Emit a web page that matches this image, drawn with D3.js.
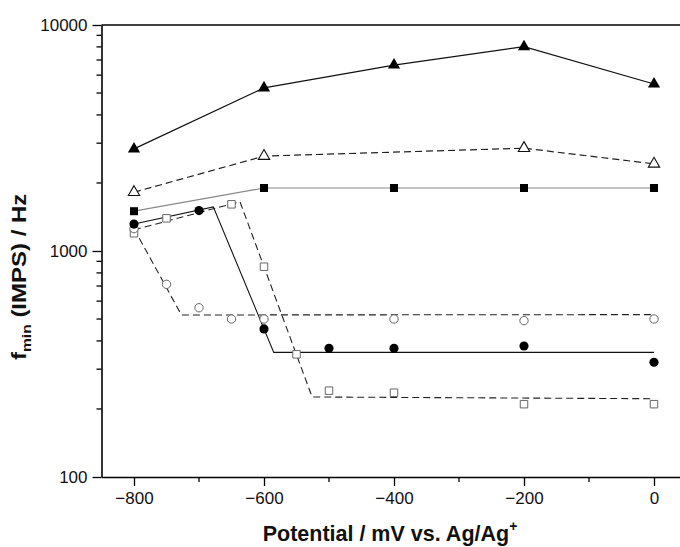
<!DOCTYPE html>
<html>
<head>
<meta charset="utf-8">
<script src="https://cdn.jsdelivr.net/npm/d3@7/dist/d3.min.js"></script>
<style>
  html, body { margin: 0; padding: 0; background: #fff; }
  svg { display: block; }
  text { font-family: "Liberation Sans", Arial, Helvetica, sans-serif; fill: #111; }
</style>
</head>
<body>
<svg id="chart" width="680" height="547"></svg>
<script>
// Potential (mV vs. Ag/Ag+) for each measured series
const trianglePotential = [-800, -600, -400, -200, 0];
const filledTriangle = [2830, 5270, 6650, 8020, 5480];

const openTrianglePotential = [-800, -600, -200, 0];
const openTriangle = [1820, 2630, 2850, 2430];

const squarePotential = [-800, -600, -400, -200, 0];
const filledSquare = [1500, 1900, 1900, 1900, 1900];

const circlePotential = [-800, -700, -600, -500, -400, -200, 0];
const filledCircle = [1316, 1510, 452, 371, 371, 380, 322];

const openCirclePotential = [-800, -750, -700, -650, -600, -400, -200, 0];
const openCircle = [1256, 712, 561, 500, 500, 500, 492, 500];

const openSquarePotential = [-800, -750, -650, -600, -550, -500, -400, -200, 0];
const openSquare = [1198, 1395, 1609, 852, 349, 241, 236, 210, 210];

// Piecewise fit lines (potential, frequency)
const filledCircleFitPotential = [-800, -678, -585, 0];
const filledCircleFit = [1316, 1568, 356, 356];

const openCircleFitPotential = [-800, -727, 0];
const openCircleFit = [1256, 521, 523];

const openSquareFitPotential = [-800, -637, -526, 0];
const openSquareFit = [1240, 1653, 226, 222];

// Axis ticks
const xMajorTicks = [-800, -600, -400, -200, 0];
const xMinorTicks = [-700, -500, -300, -100];
const yMajorTicks = [100, 1000, 10000];
const yMinorTicks = [200, 300, 400, 500, 600, 700, 800, 900,
                     2000, 3000, 4000, 5000, 6000, 7000, 8000, 9000];

const svg = d3.select("#chart");

const x = d3.scaleLinear().domain([-850, 50]).range([101.5, 686.5]);
const y = d3.scaleLog().domain([100, 10000]).range([477, 25]);

const zip = (xs, ys) => xs.map((v, i) => [v, ys[i]]);
const line = d3.line().x(d => x(d[0])).y(d => y(d[1]));

// Frame: top border
svg.append("line")
  .attr("x1", x(-850)).attr("x2", x(50))
  .attr("y1", y(10000)).attr("y2", y(10000))
  .attr("stroke", "#000").attr("stroke-width", 1.6);

// X axis
const xAxis = svg.append("g").attr("transform", `translate(0,${y(100)})`);
xAxis.call(d3.axisBottom(x).tickValues(xMajorTicks).tickSize(9).tickSizeOuter(0).tickPadding(6)
  .tickFormat(d3.format("d")));
xAxis.append("g").selectAll("line").data(xMinorTicks).join("line")
  .attr("x1", d => x(d)).attr("x2", d => x(d)).attr("y1", 0).attr("y2", 5)
  .attr("stroke", "#000").attr("stroke-width", 1.3);

// Y axis
const yAxis = svg.append("g").attr("transform", `translate(${x(-850)},0)`);
yAxis.call(d3.axisLeft(y).tickValues(yMajorTicks).tickSize(9).tickSizeOuter(0).tickPadding(5)
  .tickFormat(d3.format("d")));
yAxis.append("g").selectAll("line").data(yMinorTicks).join("line")
  .attr("x1", 0).attr("x2", -5).attr("y1", d => y(d)).attr("y2", d => y(d))
  .attr("stroke", "#000").attr("stroke-width", 1.3);

[xAxis, yAxis].forEach(g => {
  g.select(".domain").attr("stroke", "#000").attr("stroke-width", 1.6);
  g.selectAll(".tick line").attr("stroke", "#000").attr("stroke-width", 1.3);
  g.selectAll(".tick text").attr("font-size", 17).attr("fill", "#111")
    .attr("font-family", "'Liberation Sans', Arial, sans-serif");
});

// Lines
const plot = svg.append("g");

plot.append("path").datum(zip(squarePotential, filledSquare))
  .attr("d", line).attr("fill", "none").attr("stroke", "#888").attr("stroke-width", 1.2);

plot.append("path").datum(zip(trianglePotential, filledTriangle))
  .attr("d", line).attr("fill", "none").attr("stroke", "#111").attr("stroke-width", 1.2);

plot.append("path").datum(zip(openTrianglePotential, openTriangle))
  .attr("d", line).attr("fill", "none").attr("stroke", "#222").attr("stroke-width", 1.2)
  .attr("stroke-dasharray", "7,4");

plot.append("path").datum(zip(filledCircleFitPotential, filledCircleFit))
  .attr("d", line).attr("fill", "none").attr("stroke", "#111").attr("stroke-width", 1.1);

plot.append("path").datum(zip(openCircleFitPotential, openCircleFit))
  .attr("d", line).attr("fill", "none").attr("stroke", "#222").attr("stroke-width", 1.1)
  .attr("stroke-dasharray", "7,4");

plot.append("path").datum(zip(openSquareFitPotential, openSquareFit))
  .attr("d", line).attr("fill", "none").attr("stroke", "#222").attr("stroke-width", 1.1)
  .attr("stroke-dasharray", "7,4");

// Markers
const triangle = d3.symbol().type(d3.symbolTriangle);
const square = d3.symbol().type(d3.symbolSquare);
const circle = d3.symbol().type(d3.symbolCircle);

plot.append("g").selectAll("path").data(zip(openSquarePotential, openSquare)).join("path")
  .attr("d", square.size(56)())
  .attr("transform", d => `translate(${x(d[0])},${y(d[1])})`)
  .attr("fill", "#fff").attr("stroke", "#666").attr("stroke-width", 1);

plot.append("g").selectAll("path").data(zip(openCirclePotential, openCircle)).join("path")
  .attr("d", circle.size(55)())
  .attr("transform", d => `translate(${x(d[0])},${y(d[1])})`)
  .attr("fill", "#fff").attr("stroke", "#666").attr("stroke-width", 1);

plot.append("g").selectAll("path").data(zip(circlePotential, filledCircle)).join("path")
  .attr("d", circle.size(66)())
  .attr("transform", d => `translate(${x(d[0])},${y(d[1])})`)
  .attr("fill", "#000");

plot.append("g").selectAll("path").data(zip(squarePotential, filledSquare)).join("path")
  .attr("d", square.size(64)())
  .attr("transform", d => `translate(${x(d[0])},${y(d[1])})`)
  .attr("fill", "#000");

plot.append("g").selectAll("path").data(zip(openTrianglePotential, openTriangle)).join("path")
  .attr("d", triangle.size(56)())
  .attr("transform", d => `translate(${x(d[0])},${y(d[1])})`)
  .attr("fill", "#fff").attr("stroke", "#111").attr("stroke-width", 1.1);

plot.append("g").selectAll("path").data(zip(trianglePotential, filledTriangle)).join("path")
  .attr("d", triangle.size(64)())
  .attr("transform", d => `translate(${x(d[0])},${y(d[1])})`)
  .attr("fill", "#000");

// Axis titles
const xTitle = svg.append("text")
  .attr("x", 390).attr("y", 541)
  .attr("text-anchor", "middle").attr("font-weight", "bold").attr("font-size", 21.5);
xTitle.append("tspan").text("Potential / mV vs. Ag/Ag");
xTitle.append("tspan").attr("font-size", 14).attr("dy", -10).text("+");

const yTitle = svg.append("text")
  .attr("transform", "translate(26,360) rotate(-90) scale(1.2,1)")
  .attr("text-anchor", "start").attr("font-weight", "bold").attr("font-size", 20);
yTitle.append("tspan").text("f");
yTitle.append("tspan").attr("font-size", 13).attr("dy", 5).text("min");
yTitle.append("tspan").attr("dy", -5).text(" (IMPS) / Hz");
</script>
</body>
</html>
